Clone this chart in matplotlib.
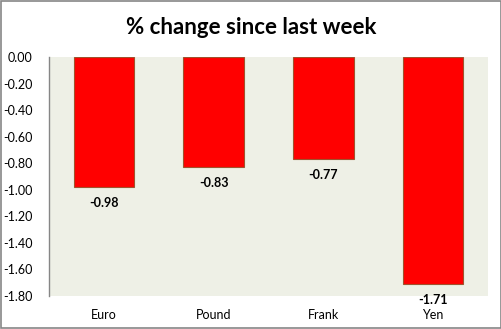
import matplotlib

matplotlib.use("Agg")
import matplotlib.pyplot as plt
from matplotlib.patches import Rectangle

categories = ["Euro", "Pound", "Frank", "Yen"]
changes = [-0.98, -0.83, -0.77, -1.71]
yticks = [0.0, -0.2, -0.4, -0.6, -0.8, -1.0, -1.2, -1.4, -1.6, -1.8]

plt.rcParams["font.family"] = ["Lato", "DejaVu Sans"]

fig = plt.figure(figsize=(5.02, 3.29), dpi=100)
ax = fig.add_axes([0.0976, 0.1003, 0.8745, 0.7264])
ax.set_facecolor("#eef0e6")

x = range(len(categories))
ax.bar(x, changes, width=0.55, color="#ff0000", edgecolor="#a0522d", linewidth=0.8)

for xi, v in zip(x, changes):
    ax.annotate(f"{v:.2f}", (xi, v), xytext=(0, -7), textcoords="offset points",
                ha="center", va="top", fontsize=9, fontweight="bold", color="black",
                annotation_clip=False)

ax.set_xlim(-0.5, len(categories) - 0.5)
ax.set_ylim(-1.8, 0.0)
ax.set_yticks(yticks)
ax.set_yticklabels([f"{t:.2f}" for t in yticks], fontsize=9)
ax.set_xticks(list(x))
ax.set_xticklabels(categories, fontsize=9)
ax.tick_params(axis="x", length=0, pad=9)
ax.tick_params(axis="y", length=0, pad=12)

for side in ("top", "right", "bottom"):
    ax.spines[side].set_visible(False)
ax.spines["left"].set_color("#868686")
ax.spines["left"].set_linewidth(1)

fig.text(0.5, 0.917, "% change since last week", ha="center", va="center",
         fontsize=16, fontweight="bold")

fig.patches.append(Rectangle((0.002, 0.003), 0.996, 0.994, transform=fig.transFigure,
                             fill=False, edgecolor="#868686", linewidth=1.2))

fig.savefig("out.png", dpi=100)
